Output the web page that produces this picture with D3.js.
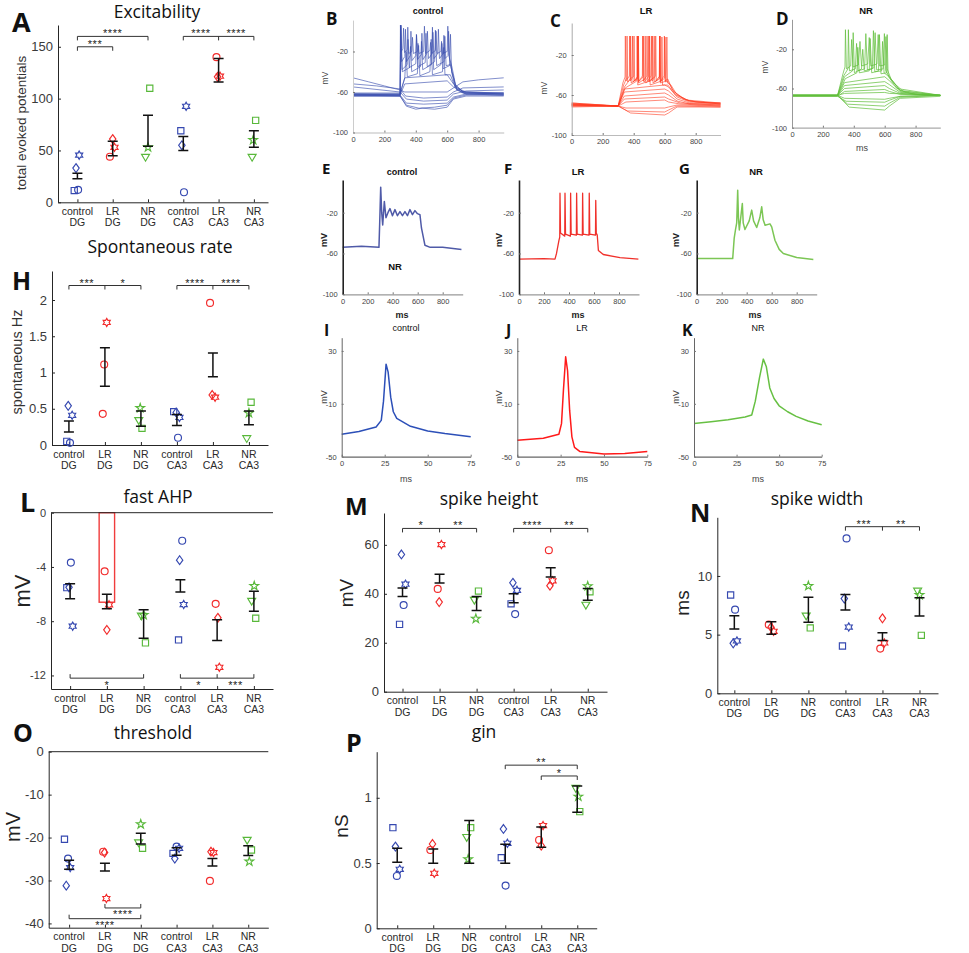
<!DOCTYPE html>
<html><head><meta charset="utf-8">
<script src="https://cdn.jsdelivr.net/npm/d3@7"></script>
<style>body{margin:0;background:#fff} svg{display:block}</style>
</head><body><svg id="c" width="969" height="953"></svg>
<script>
// ---------------- DATA ----------------
const catLabels = [["control","DG"],["LR","DG"],["NR","DG"],["control","CA3"],["LR","CA3"],["NR","CA3"]];
const groupColors = ["#3548b0","#f22b2b","#58b83a"];

// points: [category, value, marker, jitter]
const excitabilityPts = [[1,11.3,'s',-0.09],[1,12,'o',0.02],[1,33,'d',-0.04],[1,45.5,'h',0.05],
 [2,61,'d',0],[2,53,'h',0.05],[2,44,'o',-0.08],
 [3,110,'s',0.05],[3,53,'p',0],[3,43.5,'v',-0.07],
 [4,69,'s',-0.07],[4,55,'d',-0.04],[4,92.6,'h',0.08],[4,9.7,'o',0.02],
 [5,140,'o',-0.06],[5,121,'d',-0.03],[5,121.6,'h',0.04],
 [6,79,'s',0.05],[6,60,'p',-0.02],[6,43.5,'v',-0.05]];
const excitabilityErr = [[22.6,28],[45,59],[54,84],[50,63.5],[116,138.7],[53,69]];
const excitabilitySig = [[150,1,2,[],[[1.5,'***']]],[160,1,3,[],[[2,'****']]],[160,4,6,[5],[[4.5,'****'],[5.5,'****']]]];
const excitabilityTicks = [0,50,100,150];

const spontPts = [[1,0.54,'d',-0.02],[1,0.41,'h',0.09],[1,0.05,'s',-0.06],[1,0.03,'o',0.03],
 [2,1.69,'h',0.05],[2,1.11,'o',-0.02],[2,0.43,'o',-0.06],
 [3,0.51,'p',-0.02],[3,0.34,'v',-0.06],[3,0.23,'s',0.03],
 [4,0.46,'s',-0.09],[4,0.45,'d',-0.02],[4,0.38,'h',0.07],[4,0.1,'o',0.03],
 [5,1.96,'o',-0.08],[5,0.69,'d',-0.02],[5,0.66,'h',0.06],
 [6,0.59,'s',0.06],[6,0.44,'p',0],[6,0.09,'v',-0.06]];
const spontErr = [[0.18,0.33],[0.81,1.34],[0.26,0.47],[0.27,0.42],[0.94,1.27],[0.28,0.47]];
const spontSig = [[2.2,1,3,[2],[[1.5,'***'],[2.5,'*']]],[2.2,4,6,[5],[[4.5,'****'],[5.5,'****']]]];
const spontTicks = [0,0.5,1,1.5,2];

const ahpPts = [[1,-3.68,'o',0.02],[1,-5.53,'s',-0.09],[1,-5.5,'d',-0.03],[1,-8.37,'h',0.07],
 [2,-4.32,'o',-0.06],[2,-6.79,'h',0.06],[2,-8.64,'d',0],
 [3,-7.55,'p',0],[3,-7.6,'v',-0.06],[3,-9.6,'s',0.05],
 [4,-2.07,'o',0.05],[4,-3.5,'d',-0.02],[4,-6.77,'h',0.09],[4,-9.38,'s',-0.05],
 [5,-6.72,'o',-0.04],[5,-7.75,'d',0.02],[5,-11.4,'h',0.06],
 [6,-5.4,'p',0.01],[6,-6.52,'v',-0.06],[6,-7.78,'s',0.05]];
const ahpErr = [[-6.35,-5.23],[-7.09,-6.02],[-9.26,-7.16],[-5.85,-4.94],[-9.43,-7.9],[-7.26,-5.8]];
const ahpBar = [[2,-6.6,0.42]];
const ahpSig = [[-12.2,1,3,[],[[2,'*']]],[-12.2,4,6,[5],[[4.5,'*'],[5.5,'***']]]];
const ahpTicks = [-12,-8,-4,0];

const heightPts = [[1,56.05,'d',-0.03],[1,43.9,'h',0.08],[1,35.4,'o',0.03],[1,27.5,'s',-0.08],
 [2,60.1,'h',0.05],[2,42,'o',-0.05],[2,36.6,'d',-0.01],
 [3,41.1,'s',0.05],[3,37.4,'v',-0.06],[3,29.8,'p',-0.02],
 [4,44.5,'d',-0.02],[4,41.4,'h',0.09],[4,35.9,'s',-0.07],[4,31.7,'o',0.04],
 [5,57.8,'o',-0.05],[5,45.3,'h',0.05],[5,43.3,'d',-0.02],
 [6,43.1,'p',0],[6,40.8,'s',0.06],[6,35.4,'v',-0.05]];
const heightErr = [[38.9,42.4],[44.4,48],[33.2,38.9],[36.3,40],[46.9,50.6],[37.4,42.2]];
const heightSig = [[66.7,1,3,[2],[[1.5,'*'],[2.5,'**']]],[66.7,4,6,[5],[[4.5,'****'],[5.5,'**']]]];
const heightTicks = [0,20,40,60];

const widthPts = [[1,8.38,'s',-0.1],[1,7.13,'o',0.02],[1,4.46,'h',0.07],[1,4.26,'d',-0.03],
 [2,5.85,'o',-0.07],[2,5.63,'d',-0.01],[2,5.28,'h',0.06],
 [3,9.15,'p',0],[3,6.6,'v',-0.06],[3,5.57,'s',0.05],
 [4,13.2,'o',0.03],[4,8.07,'d',-0.03],[4,5.65,'h',0.09],[4,4.03,'s',-0.08],
 [5,6.39,'d',0],[5,4.29,'h',0.05],[5,3.81,'o',-0.06],
 [6,8.72,'v',-0.05],[6,8.38,'p',0],[6,4.94,'s',0.05]];
const widthErr = [[5.48,6.62],[5.03,6.1],[6.05,8.18],[7.1,8.41],[4.49,5.17],[6.59,8.15]];
const widthSig = [[14.2,4,6,[5],[[4.5,'***'],[5.5,'**']]]];
const widthTicks = [0,5,10];

const thresholdPts = [[1,-20.4,'s',-0.13],[1,-24.9,'o',-0.03],[1,-27,'h',0.03],[1,-31.2,'d',-0.08],
 [2,-23.3,'o',-0.05],[2,-23.5,'d',-0.01],[2,-34.2,'h',0.04],
 [3,-16.9,'p',0],[3,-21.2,'v',-0.06],[3,-22.5,'s',0.05],
 [4,-22.1,'o',0],[4,-22.5,'h',0.07],[4,-23.7,'s',-0.1],[4,-24.9,'d',-0.05],
 [5,-23.3,'d',-0.04],[5,-23.5,'h',0.03],[5,-30.1,'o',-0.07],
 [6,-20.6,'v',-0.03],[6,-22.9,'s',0.09],[6,-25.6,'p',0.03]];
const thresholdErr = [[-27.4,-25.3],[-27.8,-26],[-21.5,-19],[-24.1,-22.4],[-26.6,-24.9],[-24.2,-21.9]];
const thresholdSig = [[-36.4,2,3,[],[[2.5,'****']]],[-38.9,1,3,[],[[2,'****']]]];
const thresholdTicks = [-40,-30,-20,-10,0];

const ginPts = [[1,0.771,'s',-0.12],[1,0.626,'d',-0.05],[1,0.452,'h',0.07],[1,0.401,'o',-0.01],
 [2,0.646,'d',-0.02],[2,0.6,'o',-0.08],[2,0.421,'h',0.03],
 [3,0.771,'s',0.04],[3,0.697,'v',-0.07],[3,0.529,'p',-0.03],
 [4,0.761,'d',-0.05],[4,0.651,'h',0.06],[4,0.541,'s',-0.11],[4,0.327,'o',0.01],
 [5,0.787,'h',0.05],[5,0.677,'o',-0.06],[5,0.633,'d',0],
 [6,1.073,'v',-0.04],[6,1.009,'p',0.03],[6,0.894,'s',0.07]];
const ginErr = [[0.506,0.613],[0.498,0.608],[0.498,0.825],[0.498,0.644],[0.621,0.776],[0.889,1.09]];
const ginSig = [[1.25,4,6,[],[[5,'**']]],[1.167,5,6,[],[[5.5,'*']]]];
const ginTicks = [0,0.5,1];

// voltage traces: [ms, mV]
const tracesB = [
 [[0,-46],[100,-50],[200,-54],[300,-58],[330,-60],[600,-60],[640,-56],[700,-50],[800,-48],[960,-46]],
 [[0,-52],[150,-54],[300,-57],[335,-64],[450,-66],[600,-65],[640,-60],[700,-56],[960,-55]],
 [[0,-55],[300,-60],[340,-67],[450,-69],[600,-68],[640,-62],[720,-59],[960,-58]],
 [[0,-62],[300,-63],[340,-71],[450,-72],[600,-71],[640,-65],[720,-62],[960,-61]],
 [[0,-63],[300,-64],[340,-73],[420,-76],[520,-75],[600,-73],[640,-66],[720,-63],[960,-63]],
 [[0,-64],[300,-64],[340,-74],[400,-77],[440,-76],[520,-77],[600,-75],[640,-67],[720,-64],[960,-64]],
 [[0,-63],[300,-63],[330,-52],[600,-49],[640,-55],[700,-61],[960,-62]],
 [[0,-62],[300,-62],[330,-46],[600,-43],[640,-52],[700,-60],[960,-61]],
 [[0,-63],[300,-63],[304,6],[312,-38],[345,-33],[350,-8],[358,-36],[400,-32],[405,-4],[413,-35],[460,-31],[465,-2],[473,-35],[520,-30],[525,1],[533,-34],[580,-30],[585,-5],[593,-34],[620,-33],[650,-52],[700,-60],[960,-62]],
 [[0,-64],[300,-64],[303,5],[310,-30],[330,-25],[334,2],[341,-30],[365,-24],[369,0],[376,-29],[400,-24],[404,-3],[411,-28],[435,-23],[439,-2],[446,-28],[470,-22],[474,0],[481,-27],[505,-22],[509,-1],[516,-27],[540,-22],[544,2],[551,-27],[575,-22],[579,-4],[586,-27],[605,-24],[609,0],[616,-28],[630,-40],[660,-57],[720,-62],[960,-63]],
 [[0,-62],[300,-62],[306,6],[314,-40],[360,-36],[366,-15],[374,-40],[430,-35],[436,-10],[444,-38],[500,-33],[506,4],[514,-38],[560,-33],[566,-12],[574,-37],[615,-34],[621,-3],[628,-40],[650,-55],[720,-61],[960,-62]],
 [[0,-61],[300,-61],[330,-46],[338,-20],[346,-45],[410,-42],[418,-14],[426,-44],[490,-40],[498,-8],[506,-43],[570,-40],[578,-16],[586,-43],[620,-43],[650,-55],[720,-60],[960,-61]],
 [[0,-63],[300,-63],[302,6],[308,-20],[318,-17],[322,3],[328,-21],[345,-18],[349,4],[355,-22],[375,-20],[379,-6],[385,-22],[410,-20],[414,-12],[420,-22],[450,-20],[455,5],[462,-22],[490,-19],[494,-11],[500,-22],[525,-19],[529,0],[535,-22],[560,-20],[564,-10],[570,-22],[600,-20],[604,5],[610,-24],[630,-35],[660,-58],[720,-62],[960,-63]]
];
const tracesC = [
 [[0,-68],[300,-71],[340,-54],[600,-50],[625,-52],[680,-62],[760,-67],[960,-68]],
 [[0,-69],[300,-71],[340,-57],[600,-54],[625,-56],[680,-64],[760,-68],[960,-69]],
 [[0,-69],[300,-71],[340,-61],[600,-58],[625,-60],[680,-66],[760,-69],[960,-70]],
 [[0,-70],[300,-71],[340,-64],[600,-62],[625,-64],[700,-68],[960,-70]],
 [[0,-70],[300,-71],[350,-67],[600,-65],[625,-67],[700,-69],[960,-71]],
 [[0,-71],[300,-71],[350,-73],[600,-73],[625,-72],[680,-70],[960,-71]],
 [[0,-71],[300,-71],[360,-76],[600,-77],[625,-75],[680,-71],[960,-72]],
 [[0,-72],[300,-71],[380,-78],[600,-80],[625,-78],[680,-72],[960,-72]],
 [[0,-70],[300,-71],[330,-48],[344,-42],[346,-1],[350,-46],[372,-41],[374,-1],[378,-46],[400,-41],[402,-1],[406,-46],[428,-41],[430,-1],[434,-46],[456,-41],[458,-1],[462,-46],[484,-41],[486,-1],[490,-46],[512,-41],[514,-1],[518,-46],[540,-41],[542,-1],[546,-46],[568,-41],[570,-1],[574,-46],[596,-41],[598,-1],[602,-46],[620,-44],[650,-55],[720,-64],[800,-67],[960,-68]],
 [[0,-69],[300,-71],[335,-50],[355,-43],[357,-1],[361,-47],[390,-42],[392,-1],[396,-47],[425,-42],[427,-1],[431,-47],[460,-42],[462,-1],[466,-47],[495,-42],[497,-1],[501,-47],[530,-42],[532,-1],[536,-47],[565,-42],[567,-1],[571,-47],[600,-43],[602,-2],[606,-47],[620,-46],[660,-57],[740,-65],[960,-68]],
 [[0,-68],[300,-71],[340,-52],[378,-44],[380,-1],[384,-48],[425,-44],[427,-1],[431,-48],[472,-44],[474,-1],[478,-48],[519,-44],[521,-1],[525,-48],[566,-44],[568,-1],[572,-48],[610,-46],[614,-2],[618,-48],[640,-50],[680,-60],[760,-66],[960,-69]],
 [[0,-70],[300,-71],[345,-53],[420,-46],[422,-1],[426,-50],[500,-46],[502,-1],[506,-50],[580,-46],[582,-2],[586,-50],[620,-50],[670,-60],[760,-66],[960,-69]]
];
const tracesD = [
 [[0,-67],[295,-67],[340,-54],[600,-48],[630,-52],[700,-63],[800,-66],[960,-67]],
 [[0,-67],[295,-67],[340,-57],[600,-53],[630,-56],[700,-64],[960,-67]],
 [[0,-67],[295,-67],[340,-60],[600,-57],[630,-60],[700,-65],[960,-67]],
 [[0,-68],[295,-68],[340,-63],[600,-61],[630,-63],[700,-66],[960,-67]],
 [[0,-67],[295,-67],[340,-65],[600,-64],[630,-65],[960,-67]],
 [[0,-67],[295,-67],[340,-70],[600,-71],[630,-70],[700,-68],[960,-67]],
 [[0,-68],[295,-68],[350,-73],[600,-74],[630,-72],[700,-68],[960,-67]],
 [[0,-67],[295,-67],[360,-76],[600,-78],[630,-75],[700,-69],[960,-67]],
 [[0,-67],[295,-67],[370,-79],[600,-82],[630,-78],[700,-70],[960,-68]],
 [[0,-67],[295,-67],[330,-45],[343,-38],[346,0],[352,-40],[380,-37],[386,-10],[395,-38],[430,-36],[440,-12],[450,-37],[490,-35],[500,-8],[510,-37],[550,-35],[558,-5],[566,-37],[600,-36],[608,-7],[616,-40],[640,-50],[700,-62],[800,-66],[960,-67]],
 [[0,-67],[295,-67],[335,-47],[362,-40],[365,0],[372,-42],[410,-40],[418,-14],[428,-42],[470,-40],[478,-4],[488,-41],[530,-39],[538,-3],[548,-41],[590,-40],[598,-4],[606,-42],[630,-48],[700,-62],[960,-67]],
 [[0,-67],[295,-67],[340,-48],[392,-42],[396,-3],[404,-44],[450,-40],[458,-20],[468,-42],[520,-40],[527,-1],[536,-43],[580,-42],[586,-12],[596,-44],[620,-47],[680,-60],[960,-67]],
 [[0,-67],[295,-67],[345,-50],[420,-44],[426,-18],[436,-44],[500,-42],[506,-9],[516,-44],[560,-42],[566,-5],[576,-45],[612,-44],[616,-5],[622,-46],[650,-53],[720,-63],[960,-67]]
];
const traceE = [[0,-54],[150,-53],[290,-54],[296,-30],[304,5],[312,-20],[320,-32],[333,-9],[346,-25],[362,-20],[378,-16],[398,-23],[418,-17],[438,-23],[458,-19],[478,-23],[498,-19],[518,-23],[538,-17],[558,-22],[578,-18],[598,-21],[618,-22],[630,-35],[658,-52],[700,-54],[800,-54],[950,-56]];
const traceF = [[0,-65.6],[200,-65],[288,-65.6],[300,-60],[320,-47],[326,-44],[328,-1],[332,-40],[366,-43],[368,-1],[372,-41],[411,-43],[413,-1],[417,-41],[459,-42],[461,-1],[465,-41],[507,-42],[509,-1],[513,-41],[560,-42],[562,-1],[566,-41],[612,-42],[614,-8],[618,-40],[626,-42],[635,-57],[674,-61],[808,-64],[955,-65.5]];
const traceG = [[0,-65],[288,-65],[300,-45],[310,-37],[320,-30],[328,2],[334,-25],[341,-37],[365,-11],[372,-30],[386,-36.5],[420,-28],[440,-17.5],[455,-28],[480,-34.5],[505,-25],[520,-14.3],[532,-27],[547,-32.3],[586,-31],[600,-34],[626,-47],[660,-56],[693,-60],[800,-64],[933,-66]];
const traceI = [[0,-33],[10,-31],[20,-27.5],[23,-22.5],[24.3,-8],[25.8,20],[27,14],[28.5,-5],[30,-16],[32,-21],[40,-27],[50,-30.5],[60,-32.5],[75,-35]];
const traceJ = [[0,-37.5],[15,-36],[24,-33],[25.5,-25],[26.6,0],[27.9,25.5],[29,15],[30.2,-15],[31.5,-35],[33,-43],[36,-46],[50,-48],[62,-47.5],[75,-46]];
const traceK = [[0,-24.8],[10,-23.5],[20,-22],[30,-20],[33.9,-18.5],[36,-8],[38.5,10],[40.7,23.8],[42.5,18],[44.5,2],[47,-6],[50,-11.5],[55,-16],[60,-19.5],[67,-23],[75,-25.8]];
const traceXTicksLong = [0,200,400,600,800];
const traceYTicksLong = [-100,-60,-20];
const traceXTicksShort = [0,25,50,75];
const traceYTicksShort = [-50,-10,30];

// ---------------- DRAWING ----------------
const svg = d3.select('#c');
const SANS = "'Liberation Sans', Arial, sans-serif";
const TITLE = "'Open Sans', 'Noto Sans', sans-serif";

function txt(x, y, s, o = {}) {
  const t = svg.append('text').attr('x', x).attr('y', y).text(s)
    .attr('font-family', o.ff || SANS).attr('font-size', o.fs || 12)
    .attr('fill', o.fill || '#222').attr('text-anchor', o.anchor || 'middle')
    .attr('font-weight', o.fw || 'normal');
  if (o.rot) t.attr('transform', `rotate(-90,${x},${y})`);
  if (o.ls) t.attr('letter-spacing', o.ls);
  return t;
}

function markerPath(m) {
  const poly = (n, ro, ri) => {
    let s = '';
    for (let k = 0; k < 2 * n; k++) {
      const a = -Math.PI / 2 + k * Math.PI / n, r = k % 2 ? ri : ro;
      s += (k ? 'L' : 'M') + (r * Math.cos(a)).toFixed(2) + ',' + (r * Math.sin(a)).toFixed(2);
    }
    return s + 'Z';
  };
  switch (m) {
    case 'o': return d3.symbol(d3.symbolCircle, 38)();
    case 's': return 'M-3.1,-3.1h6.2v6.2h-6.2z';
    case 'd': return 'M0,-4.4L3.2,0L0,4.4L-3.2,0Z';
    case 'v': return 'M-4,-2.8L4,-2.8L0,4Z';
    case 'h': return poly(6, 4.1, 2.37);
    case 'p': return poly(5, 4.6, 1.8);
  }
}

function styleAxis(a, fs) {
  a.select('.domain').attr('stroke', '#262626').attr('stroke-width', 1);
  a.selectAll('.tick line').attr('stroke', '#262626');
  a.selectAll('.tick text').attr('font-family', SANS).attr('font-size', fs).attr('fill', '#3a3a3a');
}

function summary(c) {
  const x = d3.scaleLinear().domain(c.xd).range([c.left, c.right]);
  const y = d3.scaleLinear().domain(c.yd).range([c.bottom, c.top]);
  const g = svg.append('g');
  (c.bars || []).forEach(([k, v, w]) => {
    g.append('rect').attr('x', x(k - w / 2)).attr('width', x(k + w / 2) - x(k - w / 2))
      .attr('y', y(0)).attr('height', y(v) - y(0))
      .attr('fill', 'none').attr('stroke', '#f03c3c').attr('stroke-width', 1.4);
  });
  const ya = g.append('g').attr('transform', `translate(${c.left},0)`)
    .call(d3.axisLeft(y).tickValues(c.yticks).tickSizeInner(-3).tickSizeOuter(0).tickPadding(5).tickFormat(d => String(d)));
  styleAxis(ya, c.fs || 13);
  const xa = g.append('g').attr('transform', `translate(0,${c.bottom})`)
    .call(d3.axisBottom(x).tickValues([1, 2, 3, 4, 5, 6]).tickSizeInner(-3).tickSizeOuter(0).tickFormat(() => ''));
  styleAxis(xa, 10.5);
  if (c.topLine) {
    g.append('line').attr('x1', c.left).attr('x2', c.right).attr('y1', y(0)).attr('y2', y(0))
      .attr('stroke', '#262626').attr('stroke-width', 1);
  }
  catLabels.forEach((l, i) => {
    const t = g.append('text').attr('x', x(i + 1)).attr('y', c.bottom + 12.5)
      .attr('font-family', SANS).attr('font-size', 10.5).attr('fill', '#2a2a2a').attr('text-anchor', 'middle');
    t.append('tspan').attr('x', x(i + 1)).text(l[0]);
    t.append('tspan').attr('x', x(i + 1)).attr('dy', 11.5).text(l[1]);
  });
  c.pts.forEach(([k, v, m, j]) => {
    g.append('path').attr('d', markerPath(m)).attr('transform', `translate(${x(k + j)},${y(v)})`)
      .attr('fill', 'none').attr('stroke', groupColors[(k - 1) % 3]).attr('stroke-width', 1.15);
  });
  c.err.forEach(([lo, hi], i) => {
    const cx = x(i + 1);
    const p = `M${cx},${y(lo)}V${y(hi)}M${cx - 5},${y(lo)}H${cx + 5}M${cx - 5},${y(hi)}H${cx + 5}`;
    g.append('path').attr('d', p).attr('stroke', '#111').attr('stroke-width', 1.5).attr('fill', 'none');
  });
  c.sig.forEach(([v, a, b, mids, labels]) => {
    const yy = y(v), dir = c.below ? -1 : 1;
    let p = `M${x(a)},${yy + 4 * dir}V${yy}H${x(b)}V${yy + 4 * dir}`;
    mids.forEach(mk => { p += `M${x(mk)},${yy}V${yy + 4 * dir}`; });
    g.append('path').attr('d', p).attr('stroke', '#333').attr('stroke-width', 1).attr('fill', 'none');
    labels.forEach(([lx, s]) => {
      g.append('text').attr('x', x(lx)).attr('y', c.below ? yy + 10.5 : yy + 1).text(s)
        .attr('font-family', SANS).attr('font-size', 11).attr('fill', '#222')
        .attr('text-anchor', 'middle').attr('letter-spacing', 0.6);
    });
  });
}

summary({left: 58, right: 268, top: 25, bottom: 202.3, xd: [0.45, 6.4], yd: [0, 171], yticks: excitabilityTicks,
  pts: excitabilityPts, err: excitabilityErr, sig: excitabilitySig});
summary({left: 52, right: 268, top: 271, bottom: 445, xd: [0.53, 6.53], yd: [0, 2.4], yticks: spontTicks,
  pts: spontPts, err: spontErr, sig: spontSig});
summary({left: 51, right: 273, top: 512.7, bottom: 689, xd: [0.48, 6.52], yd: [-13, 0], yticks: ahpTicks, fs: 11,
  pts: ahpPts, err: ahpErr, sig: ahpSig, bars: ahpBar, topLine: true, below: true});
summary({left: 384, right: 607, top: 513, bottom: 691.7, xd: [0.5, 6.52], yd: [0, 73], yticks: heightTicks,
  pts: heightPts, err: heightErr, sig: heightSig});
summary({left: 717.3, right: 938, top: 517.3, bottom: 693.3, xd: [0.54, 6.5], yd: [0, 15], yticks: widthTicks,
  pts: widthPts, err: widthErr, sig: widthSig});
summary({left: 48.7, right: 268.3, top: 751.7, bottom: 927.7, xd: [0.43, 6.56], yd: [-41, 0], yticks: thresholdTicks,
  pts: thresholdPts, err: thresholdErr, sig: thresholdSig, topLine: true, below: true});
summary({left: 376.7, right: 596.7, top: 751.7, bottom: 928.3, xd: [0.43, 6.54], yd: [0, 1.353], yticks: ginTicks,
  pts: ginPts, err: ginErr, sig: ginSig});

txt(157, 18, 'Excitability', {ff: TITLE, fs: 17.5, fill: '#111'});
txt(160, 253, 'Spontaneous rate', {ff: TITLE, fs: 17.5, fill: '#111'});
txt(158, 503, 'fast AHP', {ff: TITLE, fs: 17.5, fill: '#111'});
txt(489, 505, 'spike height', {ff: TITLE, fs: 17.5, fill: '#111'});
txt(817, 505, 'spike width', {ff: TITLE, fs: 17.5, fill: '#111'});
txt(153, 739, 'threshold', {ff: TITLE, fs: 17.5, fill: '#111'});
txt(484, 738, 'gin', {ff: TITLE, fs: 17.5, fill: '#111'});
[['A', 12, 32, 27], ['H', 12, 290, 25], ['L', 20, 512, 27], ['M', 345, 515, 24], ['N', 690, 522, 25], ['O', 13, 742, 25], ['P', 346, 752, 25]]
  .forEach(([s, x, y, f]) => txt(x, y, s, {ff: TITLE, fs: f, fw: 'bold', anchor: 'start', fill: '#111'}));
txt(26, 123, 'total evoked potentials', {fs: 13.5, rot: true, fill: '#333'});
txt(22, 362, 'spontaneous Hz', {fs: 14.5, rot: true, fill: '#333'});
txt(30, 591, 'mV', {fs: 22, rot: true, fill: '#222'});
txt(353, 593, 'mV', {fs: 19, rot: true, fill: '#222'});
txt(689, 603, 'ms', {fs: 19, rot: true, fill: '#222'});
txt(20, 827, 'mV', {fs: 20, rot: true, fill: '#222'});
txt(348, 826, 'nS', {fs: 19, rot: true, fill: '#222'});

function tracePanel(c) {
  const x = d3.scaleLinear().domain(c.xd).range([c.left, c.right]);
  const y = d3.scaleLinear().domain(c.yd).range([c.bottom, c.top]);
  const g = svg.append('g');
  const line = d3.line().x(d => x(d[0])).y(d => y(d[1]));
  c.traces.forEach(tr => g.append('path').attr('d', line(tr)).attr('fill', 'none')
    .attr('stroke', c.color).attr('stroke-width', c.lw).attr('stroke-opacity', c.op || 1)
    .attr('stroke-linejoin', 'round'));
  const xa = g.append('g').attr('transform', `translate(0,${c.bottom})`)
    .call(d3.axisBottom(x).tickValues(c.xt).tickSizeInner(-2).tickSizeOuter(0).tickPadding(4).tickFormat(d => String(d)));
  const ya = g.append('g').attr('transform', `translate(${c.left},0)`)
    .call(d3.axisLeft(y).tickValues(c.yt).tickSizeInner(-2).tickSizeOuter(0).tickPadding(5).tickFormat(d => String(d)));
  xa.select('.domain').attr('stroke', c.xcol || '#999').attr('stroke-width', 1.2);
  ya.select('.domain').attr('stroke', c.ycol || '#999').attr('stroke-width', c.yw || 1);
  [xa, ya].forEach(a => {
    a.selectAll('.tick line').attr('stroke', '#777');
    a.selectAll('.tick text').attr('font-family', SANS).attr('font-size', 7.5).attr('fill', '#444');
  });
}

tracePanel({left: 353, right: 503.7, top: 20.1, bottom: 132.5, xd: [0, 960], yd: [-100, 11], xt: traceXTicksLong, yt: traceYTicksLong,
  traces: tracesB, color: '#3a4fae', lw: 0.8, op: 0.8, ycol: '#ccc', xcol: '#bbb'});
tracePanel({left: 571.7, right: 720.5, top: 23, bottom: 135, xd: [0, 960], yd: [-100, 12], xt: traceXTicksLong, yt: traceYTicksLong,
  traces: tracesC, color: '#ff3a1f', lw: 0.7, op: 0.85, ycol: '#aaa', xcol: '#bbb'});
tracePanel({left: 792, right: 940.3, top: 19.3, bottom: 127.7, xd: [0, 960], yd: [-100, 10.6], xt: traceXTicksLong, yt: traceYTicksLong,
  traces: tracesD, color: '#62bf3c', lw: 0.8, op: 0.9, ycol: '#999', xcol: '#aaa'});
tracePanel({left: 342.7, right: 462.7, top: 180, bottom: 294.3, xd: [0, 960], yd: [-100, 12], xt: traceXTicksLong, yt: traceYTicksLong,
  traces: [traceE], color: '#4f5aa8', lw: 1.5, ycol: '#222', yw: 1.6, xcol: '#999'});
tracePanel({left: 519, right: 639, top: 180, bottom: 294.3, xd: [0, 960], yd: [-100, 12], xt: traceXTicksLong, yt: traceYTicksLong,
  traces: [traceF], color: '#f0302a', lw: 1.3, ycol: '#222', yw: 1.6, xcol: '#999'});
tracePanel({left: 696.7, right: 816.7, top: 180, bottom: 294.3, xd: [0, 960], yd: [-100, 12], xt: traceXTicksLong, yt: traceYTicksLong,
  traces: [traceG], color: '#7cc655', lw: 1.5, ycol: '#222', yw: 1.6, xcol: '#999'});
tracePanel({left: 341.7, right: 470.7, top: 337.7, bottom: 456.7, xd: [0, 75], yd: [-50, 40], xt: traceXTicksShort, yt: traceYTicksShort,
  traces: [traceI], color: '#2c4fb8', lw: 1.5, ycol: '#666', xcol: '#666'});
tracePanel({left: 517.3, right: 647.3, top: 337.7, bottom: 456.7, xd: [0, 75], yd: [-50, 40], xt: traceXTicksShort, yt: traceYTicksShort,
  traces: [traceJ], color: '#ff1a1a', lw: 1.5, ycol: '#666', xcol: '#666'});
tracePanel({left: 694, right: 821.7, top: 337.7, bottom: 456.7, xd: [0, 75], yd: [-50, 40], xt: traceXTicksShort, yt: traceYTicksShort,
  traces: [traceK], color: '#67c043', lw: 1.5, ycol: '#666', xcol: '#666'});

[['B', 326, 25, 17], ['C', 550, 27, 17], ['D', 776, 25, 17], ['E', 322, 174, 15], ['F', 504, 174, 15], ['G', 679, 174, 15],
 ['I', 324, 336, 16], ['J', 506, 336, 16], ['K', 682, 336, 16]]
  .forEach(([s, x, y, f]) => txt(x, y, s, {ff: TITLE, fs: f, fw: 'bold', anchor: 'start', fill: '#111'}));
txt(428, 14, 'control', {fs: 9, fw: 'bold', fill: '#111'});
txt(646, 14, 'LR', {fs: 9.5, fw: 'bold', fill: '#111'});
txt(866, 14, 'NR', {fs: 9.5, fw: 'bold', fill: '#111'});
txt(402, 175, 'control', {fs: 9, fw: 'bold', fill: '#111'});
txt(578, 175, 'LR', {fs: 9.5, fw: 'bold', fill: '#111'});
txt(756, 175, 'NR', {fs: 9.5, fw: 'bold', fill: '#111'});
txt(395, 270, 'NR', {fs: 9.5, fw: 'bold', fill: '#111'});
txt(406, 331, 'control', {fs: 9, fill: '#111'});
txt(582, 331, 'LR', {fs: 9, fill: '#111'});
txt(758, 331, 'NR', {fs: 9, fill: '#111'});
[[328, 78], [547, 88], [768, 67]].forEach(([x, y]) => txt(x, y, 'mV', {fs: 8.5, rot: true, fill: '#444'}));
[[327, 240], [502, 240], [679, 240]].forEach(([x, y]) => txt(x, y, 'mV', {fs: 9, fw: 'bold', rot: true, fill: '#222'}));
[[327, 397], [502, 397], [679, 397]].forEach(([x, y]) => txt(x, y, 'mV', {fs: 9, rot: true, fill: '#444'}));
txt(862, 151, 'ms', {fs: 9, fill: '#444'});
[[402, 318], [578, 318], [755, 318]].forEach(([x, y]) => txt(x, y, 'ms', {fs: 9, fw: 'bold', fill: '#222'}));
[[406, 482], [582, 482], [758, 482]].forEach(([x, y]) => txt(x, y, 'ms', {fs: 9, fill: '#444'}));
</script></body></html>
